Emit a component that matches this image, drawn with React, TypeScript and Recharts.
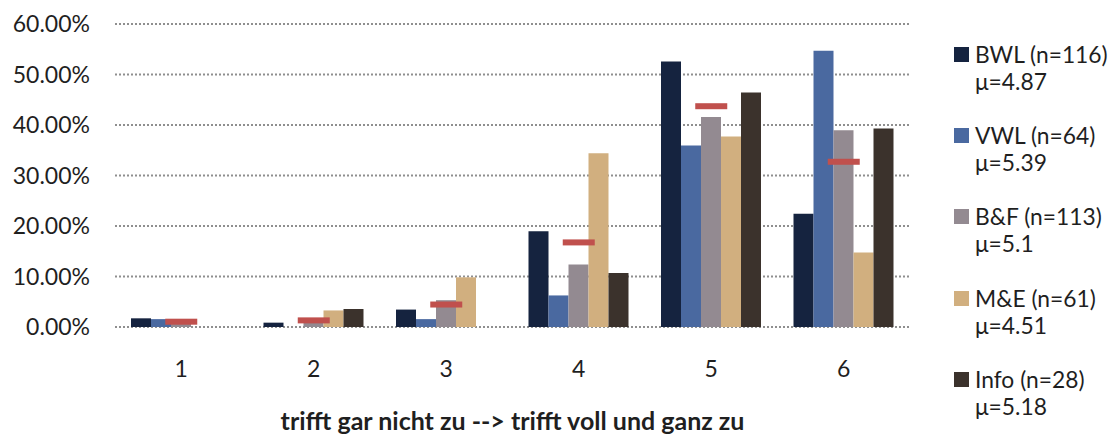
import { Bar, CartesianGrid, ComposedChart, Label, Legend, Line, XAxis, YAxis } from 'recharts';

const categories = ['1', '2', '3', '4', '5', '6'];

// Anteil der Antworten je Stufe, in Prozent
const bwl = [1.72, 0.86, 3.45, 18.97, 52.59, 22.41];
const vwl = [1.56, 0, 1.56, 6.25, 35.94, 54.69];
const bf = [0.88, 0.88, 5.31, 12.39, 41.59, 38.94];
const me = [0, 3.28, 9.84, 34.43, 37.7, 14.75];
const info = [0, 3.57, 0, 10.71, 46.43, 39.29];
const total = [1.05, 1.31, 4.45, 16.75, 43.72, 32.72];

const yTicks = [0, 10, 20, 30, 40, 50, 60];

type Series = { key: string; name: string; mu: string; color: string; values: number[] };

const series: Series[] = [
  { key: 'bwl', name: 'BWL (n=116)', mu: 'μ=4.87', color: '#15233f', values: bwl },
  { key: 'vwl', name: 'VWL (n=64)', mu: 'μ=5.39', color: '#4a69a0', values: vwl },
  { key: 'bf', name: 'B&F (n=113)', mu: 'μ=5.1', color: '#938a91', values: bf },
  { key: 'me', name: 'M&E (n=61)', mu: 'μ=4.51', color: '#d1af7f', values: me },
  { key: 'info', name: 'Info (n=28)', mu: 'μ=5.18', color: '#3b322c', values: info },
];

const data = categories.map((label, i) => {
  const row: Record<string, number | string> = { label, total: total[i] };
  for (const s of series) row[s.key] = s.values[i];
  return row;
});

const FONT = 'Lato, "Noto Sans", sans-serif';
const TEXT = '#1f1f1f';

function MeanMarker(props: { cx?: number; cy?: number }) {
  const { cx, cy } = props;
  if (cx == null || cy == null) return null;
  return <rect x={cx - 16} y={cy - 3} width={32} height={6} fill="#c0504d" />;
}

function SideLegend() {
  return (
    <div style={{ fontFamily: FONT, fontSize: 22.8, lineHeight: '27px', color: TEXT }}>
      {series.map((s) => (
        <div key={s.key} style={{ marginBottom: 27.2 }}>
          <div style={{ display: 'flex', alignItems: 'center', whiteSpace: 'nowrap' }}>
            <span style={{ width: 15, height: 15, background: s.color, marginRight: 6, flex: 'none' }} />
            {s.name}
          </div>
          <div style={{ paddingLeft: 21, whiteSpace: 'nowrap' }}>{s.mu}</div>
        </div>
      ))}
    </div>
  );
}

export default function App() {
  return (
    <div style={{ width: 1110, height: 427, fontFamily: FONT }}>
      <ComposedChart
        width={1110}
        height={427}
        data={data}
        margin={{ top: 16, right: 208, bottom: 0, left: 0 }}
        barGap={0}
      >
        <CartesianGrid vertical={false} stroke="#8f8f8f" strokeWidth={2} strokeDasharray="2 2" />
        <XAxis
          dataKey="label"
          height={108}
          axisLine={false}
          tickLine={false}
          tickSize={0}
          tickMargin={34}
          tick={{ fill: TEXT, fontSize: 23, fontFamily: FONT }}
        >
          <Label
            value="trifft gar nicht zu --> trifft voll und ganz zu"
            position="insideBottom"
            offset={5}
            style={{ fill: TEXT, fontSize: 25, fontWeight: 700, fontFamily: FONT }}
          />
        </XAxis>
        <YAxis
          width={107}
          domain={[0, 60]}
          ticks={yTicks}
          interval={0}
          axisLine={false}
          tickLine={false}
          tickSize={0}
          tickMargin={25}
          tickFormatter={(v: number) => `${v.toFixed(2)}%`}
          tick={{ fill: TEXT, fontSize: 23, fontFamily: FONT }}
        />
        <Legend
          layout="vertical"
          align="center"
          verticalAlign="middle"
          content={<SideLegend />}
          wrapperStyle={{ left: 946, top: 33, width: 164, height: 400 }}
        />
        {series.map((s) => (
          <Bar key={s.key} dataKey={s.key} name={s.name} fill={s.color} barSize={20} isAnimationActive={false} />
        ))}
        <Line
          dataKey="total"
          stroke="none"
          dot={<MeanMarker />}
          activeDot={false}
          legendType="none"
          isAnimationActive={false}
        />
      </ComposedChart>
    </div>
  );
}
